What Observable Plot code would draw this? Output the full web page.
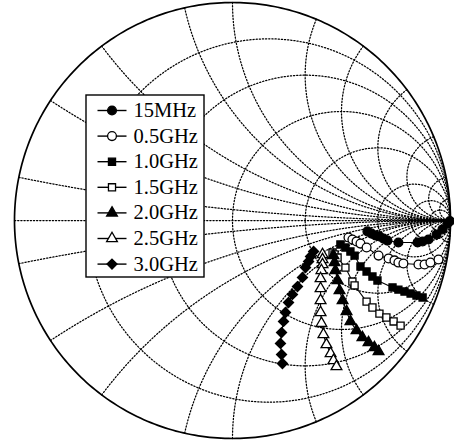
<!DOCTYPE html>
<html>
<head>
<meta charset="utf-8">
<script src="https://cdn.jsdelivr.net/npm/d3@7"></script>
<script src="https://cdn.jsdelivr.net/npm/@observablehq/plot@0.6"></script>
<style>
  html, body { margin: 0; padding: 0; background: #fff; }
  #chart svg { display: block; }
</style>
</head>
<body>
<div id="chart"></div>
<script>
// Legend labels (measurement frequency) and marker styles
const labels = ["15MHz", "0.5GHz", "1.0GHz", "1.5GHz", "2.0GHz", "2.5GHz", "3.0GHz"];
const symbols = ["circle", "circle", "square", "square", "triangle", "triangle", "diamond2"];
const filled = [true, false, true, false, true, false, true];

// Reflection coefficient [Re, Im] per frequency
const s15MHz = [[0.619,-0.050],[0.638,-0.060],[0.656,-0.069],[0.674,-0.073],[0.693,-0.083],[0.711,-0.092],
  [0.761,-0.101],[0.849,-0.101],[0.872,-0.096],[0.899,-0.087],[0.936,-0.064],[0.963,-0.041],[0.986,-0.014],[0.997,-0.003]];
const s05GHz = [[0.532,-0.078],[0.550,-0.087],[0.569,-0.096],[0.587,-0.106],[0.615,-0.124],[0.670,-0.161],
  [0.716,-0.174],[0.743,-0.183],[0.761,-0.193],[0.784,-0.197],[0.853,-0.202],[0.881,-0.202],[0.908,-0.193],[0.945,-0.179]];
const s10GHz = [[0.495,-0.110],[0.518,-0.124],[0.541,-0.142],[0.560,-0.161],[0.587,-0.211],[0.615,-0.234],
  [0.642,-0.257],[0.665,-0.275],[0.734,-0.307],[0.761,-0.317],[0.789,-0.326],[0.817,-0.335],[0.844,-0.344],[0.872,-0.353]];
const s15GHz = [[0.459,-0.147],[0.468,-0.156],[0.482,-0.170],[0.518,-0.216],[0.550,-0.280],[0.560,-0.298],
  [0.615,-0.372],[0.642,-0.399],[0.674,-0.427],[0.706,-0.445],[0.739,-0.463],[0.771,-0.482]];
const s20GHz = [[0.463,-0.161],[0.468,-0.193],[0.472,-0.229],[0.482,-0.275],[0.491,-0.321],[0.505,-0.367],
  [0.523,-0.417],[0.541,-0.463],[0.569,-0.505],[0.596,-0.537],[0.624,-0.560],[0.651,-0.583],[0.670,-0.601]];
const s25GHz = [[0.413,-0.156],[0.413,-0.179],[0.413,-0.202],[0.408,-0.229],[0.404,-0.266],[0.404,-0.312],
  [0.404,-0.367],[0.404,-0.422],[0.408,-0.472],[0.417,-0.523],[0.431,-0.569],[0.450,-0.610],[0.463,-0.642],[0.477,-0.670]];
const s30GHz = [[0.372,-0.142],[0.358,-0.165],[0.349,-0.188],[0.335,-0.216],[0.321,-0.261],[0.298,-0.303],
  [0.275,-0.339],[0.257,-0.376],[0.243,-0.422],[0.234,-0.463],[0.225,-0.514],[0.220,-0.564],[0.225,-0.615],[0.229,-0.656]];
const seriesValues = [s15MHz, s05GHz, s10GHz, s15GHz, s20GHz, s25GHz, s30GHz];

// Smith chart grid: normalized resistance circles and reactance arcs
const resistances = [0.2, 0.5, 1, 2, 5, 10, 20];
const reactances = [0.1, 0.3, 0.5, 0.8, 1, 1.5, 2, 3, 5, 10, 20];

// z -> reflection coefficient
function gamma(r, x) {
  const dr = r + 1, nr = r - 1;
  const den = dr * dr + x * x;
  return [(nr * dr + x * x) / den, (x * dr - nr * x) / den];
}

const N = 600;
const grid = [];
resistances.forEach((r, k) => {
  for (let i = 1; i < N; i++) {
    const t = Math.tan(-Math.PI / 2 + Math.PI * i / N);
    const [gx, gy] = gamma(r, t);
    grid.push({gx, gy, key: "r" + k});
  }
});
reactances.forEach((xv, k) => {
  for (const s of [1, -1]) {
    for (let i = 0; i < N; i++) {
      const t = Math.tan(Math.PI / 2 * i / N);
      const [gx, gy] = gamma(t, s * xv);
      grid.push({gx, gy, key: "x" + k + (s > 0 ? "p" : "n")});
    }
  }
});
const axisLine = [{gx: -1, gy: 0}, {gx: 1, gy: 0}];
const rim = d3.range(0, 361).map(a => ({gx: Math.cos(a * Math.PI / 180), gy: Math.sin(a * Math.PI / 180)}));

// Measured traces
const points = seriesValues.flatMap((vals, k) =>
  vals.map(([re, im]) => ({gx: re, gy: im, k})));

// Figure geometry
const W = 454, H = 443;
const margin = {left: 14, right: 4, top: 2, bottom: 5};
const px = d3.scaleLinear([margin.left, W - margin.right], [-1, 1]);
const py = d3.scaleLinear([H - margin.bottom, margin.top], [-1, 1]);

// Legend layout (pixels)
const box = {x1: 86, x2: 204, y1: 95, y2: 277};
const rowY = k => 110 + k * 25.6;
const legendRows = labels.map((label, k) => ({k, label, y: py(rowY(k))}));

const markR = {circle: 4.4, square: 4.0, triangle: 4.0, diamond2: 4.5};
const dotted = {stroke: "black", strokeWidth: 1.25, strokeDasharray: "1.25 1.9"};

const marks = [
  Plot.line(grid, {x: "gx", y: "gy", z: "key", ...dotted, curve: "linear"}),
  Plot.line(axisLine, {x: "gx", y: "gy", ...dotted}),
  Plot.line(rim, {x: "gx", y: "gy", stroke: "black", strokeWidth: 1.7}),
  Plot.line(points, {x: "gx", y: "gy", z: "k", stroke: "black", strokeWidth: 1.1})
];
labels.forEach((label, k) => {
  const data = points.filter(d => d.k === k);
  marks.push(Plot.dot(data, {
    x: "gx", y: "gy", symbol: symbols[k], r: markR[symbols[k]],
    fill: filled[k] ? "black" : "white", stroke: "black", strokeWidth: 1.3
  }));
});

// Legend box, sample lines, markers and labels
marks.push(
  Plot.rect([box], {x1: d => px(d.x1), x2: d => px(d.x2), y1: d => py(d.y1), y2: d => py(d.y2),
    fill: "white", stroke: "black", strokeWidth: 1.4}),
  Plot.link(legendRows, {x1: px(97), x2: px(126), y1: "y", y2: "y", stroke: "black", strokeWidth: 1.4})
);
legendRows.forEach(row => {
  marks.push(Plot.dot([row], {
    x: px(111.5), y: "y", symbol: symbols[row.k], r: markR[symbols[row.k]],
    fill: filled[row.k] ? "black" : "white", stroke: "black", strokeWidth: 1.3
  }));
});
marks.push(Plot.text(legendRows, {x: px(133), y: "y", text: "label", textAnchor: "start",
  fontFamily: "Liberation Serif", fontSize: 20.5, fill: "black"}));

const chart = Plot.plot({
  width: W, height: H,
  marginLeft: margin.left, marginRight: margin.right, marginTop: margin.top, marginBottom: margin.bottom,
  x: {domain: [-1, 1], axis: null},
  y: {domain: [-1, 1], axis: null},
  style: {background: "white"},
  marks
});
document.getElementById("chart").appendChild(chart);
</script>
</body>
</html>
